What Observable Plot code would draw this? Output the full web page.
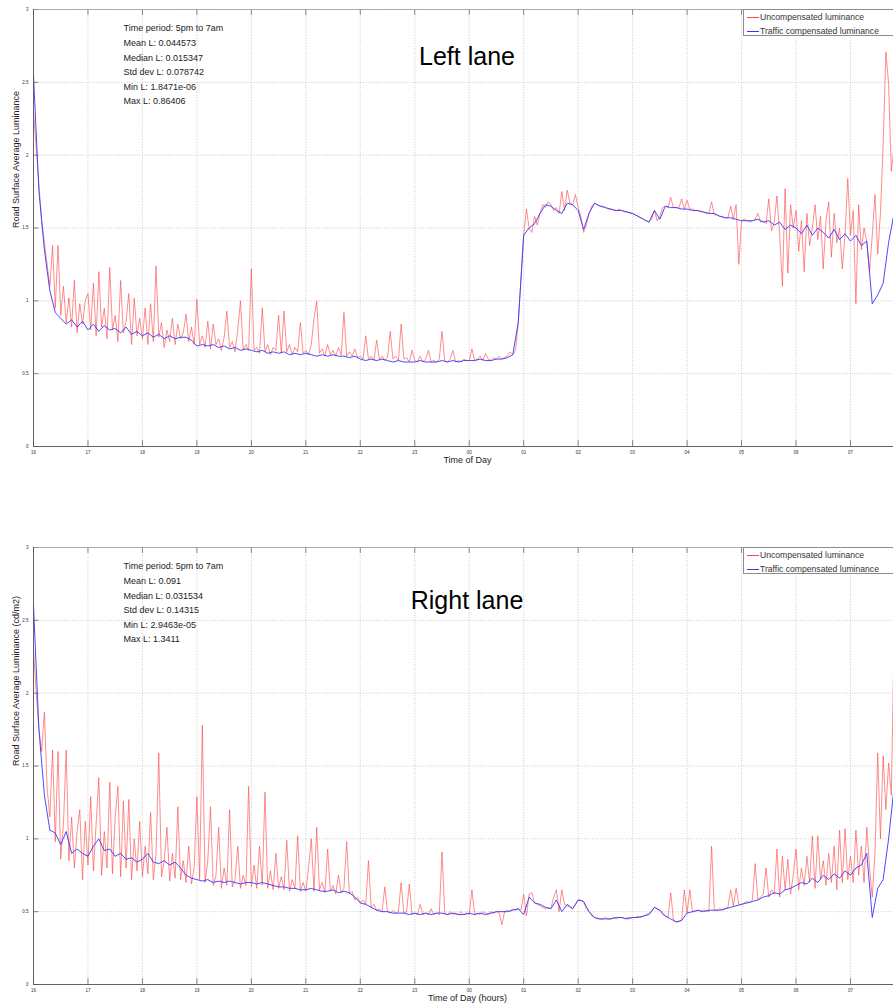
<!DOCTYPE html>
<html><head><meta charset="utf-8">
<script src="https://cdn.jsdelivr.net/npm/d3@7"></script>
<script src="https://cdn.jsdelivr.net/npm/@observablehq/plot@0.6"></script>
<style>
html,body{margin:0;padding:0;background:#fff;overflow:hidden;}
#wrap{position:relative;width:893px;height:1007px;overflow:hidden;font-family:"Liberation Sans",Arial,sans-serif;}
#wrap svg{display:block;}
.legend{position:absolute;left:743px;width:175px;height:25px;border:1px solid #8c8c8c;background:#fff;font-size:8.6px;color:#333;}
.legend .row{position:absolute;left:0;height:10px;width:100%;}
.legend .sw{position:absolute;left:3px;top:5px;width:12px;height:1px;}
.legend .lab{position:absolute;left:16px;top:0;line-height:10px;white-space:nowrap;}
</style></head><body><div id="wrap"></div>
<script>
// ---- data (hours since 16:00; uncompensated sampled every 0.05 h, compensated every 0.1 h) ----
const startHour = 16;
const uncompStep = 0.05;
const compStep = 0.1;
const hourTicks = [16,17,18,19,20,21,22,23,24,25,26,27,28,29,30,31];
const lumTicks = [0,0.5,1,1.5,2,2.5,3];
const seriesNames = ["Uncompensated luminance","Traffic compensated luminance"];

const leftUncomp = [
2.3,2.05,1.8,1.55,1.4,1.25,1.1,1.38,0.95,1.38,0.9,1.1,0.85,1.02,0.82,1.14,0.78,0.98,0.84,1.0,
1.05,0.8,1.12,0.76,1.2,0.82,0.95,0.74,1.23,0.8,0.9,0.72,1.14,0.78,0.86,1.05,0.7,1.02,0.76,0.88,
0.74,0.95,0.7,0.98,0.72,1.24,0.75,0.85,0.68,0.8,0.72,0.88,0.7,0.84,0.74,0.78,0.91,0.72,0.82,0.7,
1.01,0.7,0.76,0.68,0.86,0.67,0.84,0.7,0.74,0.66,0.75,0.93,0.68,0.72,0.65,0.8,1.0,0.66,0.7,0.66,
1.22,0.66,0.68,0.64,0.95,0.65,0.7,0.63,0.68,0.66,0.9,0.64,0.93,0.65,0.7,0.63,0.68,0.65,0.85,0.64,
0.66,0.63,0.7,0.88,1.0,0.64,0.67,0.62,0.7,0.63,0.66,0.62,0.68,0.63,0.92,0.62,0.65,0.62,0.67,0.61,
0.62,0.6,0.76,0.6,0.62,0.59,0.73,0.6,0.62,0.59,0.61,0.79,0.6,0.62,0.59,0.84,0.6,0.61,0.58,0.66,
0.59,0.58,0.62,0.58,0.6,0.66,0.58,0.59,0.58,0.6,0.79,0.59,0.58,0.6,0.66,0.58,0.59,0.58,0.6,0.59,
0.59,0.67,0.59,0.6,0.62,0.59,0.64,0.6,0.59,0.61,0.6,0.62,0.6,0.61,0.62,0.65,0.63,0.66,0.85,1.15,
1.45,1.63,1.5,1.47,1.58,1.52,1.6,1.66,1.64,1.68,1.66,1.62,1.64,1.6,1.75,1.62,1.76,1.67,1.66,1.73,
1.64,1.58,1.47,1.52,1.6,1.65,1.67,1.66,1.65,1.65,1.64,1.63,1.63,1.62,1.62,1.63,1.62,1.61,1.61,1.6,
1.6,1.59,1.58,1.57,1.56,1.55,1.54,1.56,1.62,1.55,1.58,1.64,1.65,1.64,1.71,1.64,1.64,1.64,1.7,1.63,
1.69,1.63,1.63,1.62,1.62,1.61,1.61,1.6,1.6,1.68,1.59,1.59,1.58,1.58,1.57,1.57,1.65,1.56,1.66,1.25,
1.55,1.56,1.55,1.54,1.55,1.56,1.6,1.54,1.55,1.53,1.7,1.48,1.54,1.72,1.45,1.1,1.77,1.19,1.66,1.5,
1.62,1.34,1.55,1.2,1.6,1.38,1.5,1.66,1.42,1.58,1.22,1.55,1.68,1.3,1.6,1.4,1.5,1.22,1.45,1.84,
1.45,1.62,0.98,1.66,1.35,1.5,1.4,1.2,1.45,1.73,1.32,1.6,2.07,2.71,2.49,1.89,2.06
];
const leftComp = [
2.55,1.75,1.35,1.07,0.92,0.88,0.84,0.87,0.82,0.86,
0.8,0.84,0.79,0.83,0.8,0.81,0.78,0.82,0.77,0.79,
0.76,0.78,0.75,0.77,0.74,0.76,0.74,0.75,0.75,0.73,
0.69,0.7,0.69,0.7,0.68,0.69,0.67,0.68,0.66,0.67,
0.66,0.65,0.66,0.64,0.65,0.64,0.65,0.63,0.64,0.63,
0.64,0.63,0.62,0.63,0.62,0.63,0.62,0.62,0.61,0.62,
0.6,0.59,0.6,0.59,0.6,0.59,0.58,0.59,0.58,0.58,
0.58,0.59,0.58,0.58,0.58,0.59,0.58,0.59,0.58,0.59,
0.59,0.59,0.6,0.59,0.59,0.6,0.6,0.61,0.63,0.85,
1.45,1.5,1.53,1.6,1.66,1.65,1.62,1.6,1.67,1.66,
1.62,1.49,1.6,1.67,1.65,1.64,1.63,1.62,1.62,1.61,
1.6,1.58,1.56,1.54,1.62,1.56,1.65,1.64,1.64,1.63,
1.63,1.62,1.62,1.61,1.6,1.6,1.58,1.57,1.57,1.56,
1.55,1.55,1.55,1.56,1.54,1.55,1.52,1.54,1.49,1.52,
1.5,1.46,1.52,1.45,1.5,1.47,1.43,1.49,1.42,1.46,
1.41,1.45,1.38,1.41,0.98,1.04,1.12,1.4,1.6
];
const rightUncomp = [
2.3,2.0,1.75,1.6,1.87,1.35,1.15,1.61,0.98,1.6,0.86,1.1,1.61,0.85,1.15,0.8,1.05,1.2,0.72,1.12,
0.82,1.29,0.78,1.1,1.42,0.75,1.05,0.8,1.39,0.76,1.15,1.36,0.74,1.26,0.8,1.27,0.72,1.0,0.78,1.12,
0.74,0.95,0.76,1.18,0.72,0.9,1.59,0.74,0.85,1.08,0.71,0.9,0.73,1.22,0.72,0.85,0.7,0.95,0.69,0.8,
1.29,0.72,1.78,0.7,0.85,1.22,0.68,0.75,1.08,0.66,0.8,0.68,1.2,0.67,0.72,0.95,0.66,0.75,0.68,1.36,
0.67,0.82,0.66,0.95,0.68,1.32,0.66,0.78,0.65,0.9,0.66,0.74,0.65,0.99,0.64,0.72,0.66,1.02,0.64,0.7,
0.64,0.8,1.0,0.64,1.08,0.65,0.7,0.63,0.93,0.64,0.68,0.62,0.75,0.63,0.66,0.98,0.62,0.64,0.58,0.6,
0.56,0.58,0.55,0.85,0.53,0.55,0.51,0.52,0.5,0.67,0.5,0.49,0.51,0.49,0.5,0.7,0.49,0.5,0.69,0.48,
0.49,0.48,0.55,0.48,0.49,0.48,0.52,0.48,0.49,0.48,0.91,0.49,0.48,0.5,0.48,0.49,0.48,0.5,0.48,0.49,
0.48,0.65,0.48,0.49,0.48,0.5,0.49,0.48,0.5,0.49,0.5,0.49,0.41,0.5,0.51,0.5,0.52,0.51,0.52,0.51,
0.62,0.47,0.62,0.63,0.56,0.55,0.54,0.53,0.52,0.53,0.52,0.6,0.65,0.5,0.65,0.55,0.54,0.53,0.52,0.55,
0.58,0.58,0.57,0.52,0.5,0.47,0.46,0.45,0.45,0.45,0.46,0.45,0.45,0.46,0.45,0.46,0.46,0.45,0.46,0.46,
0.46,0.46,0.47,0.46,0.47,0.48,0.49,0.5,0.53,0.52,0.51,0.48,0.47,0.46,0.63,0.44,0.43,0.43,0.44,0.65,
0.49,0.65,0.5,0.5,0.51,0.5,0.51,0.51,0.5,0.95,0.51,0.51,0.52,0.51,0.52,0.53,0.65,0.54,0.66,0.55,
0.55,0.56,0.57,0.56,0.58,0.83,0.58,0.6,0.62,0.8,0.6,0.65,0.62,0.93,0.6,0.88,0.65,0.86,0.62,0.75,
0.93,0.65,0.8,0.68,0.88,0.7,1.02,0.66,1.02,0.72,0.85,0.68,0.9,0.7,0.95,0.65,1.06,0.7,1.07,0.72,
0.88,0.7,1.06,0.75,0.95,0.7,1.08,0.8,0.6,0.9,1.59,1.0,1.57,1.2,1.52,1.3,2.37
];
const rightComp = [
2.6,1.75,1.3,1.06,1.04,0.96,1.05,0.9,0.93,0.9,
0.88,0.95,1.0,0.92,0.93,0.88,0.9,0.86,0.87,0.84,
0.86,0.9,0.84,0.83,0.85,0.82,0.84,0.8,0.75,0.73,
0.72,0.71,0.72,0.7,0.71,0.7,0.71,0.7,0.69,0.7,
0.7,0.69,0.7,0.69,0.68,0.67,0.67,0.66,0.66,0.65,
0.65,0.66,0.65,0.64,0.64,0.65,0.63,0.64,0.63,0.6,
0.56,0.55,0.53,0.51,0.5,0.5,0.49,0.49,0.49,0.48,
0.49,0.48,0.49,0.48,0.49,0.49,0.48,0.49,0.48,0.48,
0.49,0.48,0.49,0.48,0.49,0.5,0.5,0.5,0.51,0.52,
0.48,0.6,0.56,0.55,0.53,0.52,0.58,0.5,0.55,0.52,
0.58,0.57,0.5,0.46,0.45,0.45,0.45,0.46,0.46,0.45,
0.46,0.46,0.47,0.48,0.53,0.51,0.47,0.45,0.43,0.44,
0.49,0.5,0.51,0.5,0.51,0.51,0.51,0.52,0.53,0.54,
0.55,0.56,0.57,0.58,0.6,0.61,0.63,0.62,0.65,0.66,
0.68,0.7,0.69,0.73,0.7,0.75,0.72,0.76,0.73,0.78,
0.75,0.8,0.82,0.9,0.46,0.66,0.72,1.0,1.35
];

const leftStats = ["Time period: 5pm to 7am","Mean L: 0.044573","Median L: 0.015347","Std dev L: 0.078742","Min L: 1.8471e-06","Max L: 0.86406"];
const rightStats = ["Time period: 5pm to 7am","Mean L: 0.091","Median L: 0.031534","Std dev L: 0.14315","Min L: 2.9463e-05","Max L: 1.3411"];

// ---- drawing ----
const FONT = "'Liberation Sans', Arial, Helvetica, sans-serif";
const RED = "#ff4a4a", BLUE = "#3535ff";
const xDomain = [16, 31.79];

function rows(values, step) {
  return values.map((v, i) => ({hour: startHour + i * step, lum: v}));
}
const fmtHour = d => String(d % 24).padStart(2, "0");

function panel(o) {
  const red = rows(o.uncomp, uncompStep);
  const blue = rows(o.comp, compStep);
  const grid = {stroke: "#b5b5b5", strokeOpacity: 1, strokeWidth: 0.7, strokeDasharray: "1,1.6"};
  return Plot.plot({
    width: 893, height: o.height,
    marginTop: o.mt, marginBottom: o.mb, marginLeft: 33, marginRight: 0,
    style: {fontFamily: FONT, background: "#fff", color: "#333"},
    x: {domain: xDomain},
    y: {domain: [0, 3]},
    marks: [
      Plot.gridX(hourTicks, grid),
      Plot.gridY(lumTicks, grid),
      Plot.ruleX(hourTicks, {y1: 0, y2: 0.04, stroke: "#555", strokeWidth: 0.7}),
      Plot.ruleX(hourTicks, {y1: 2.96, y2: 3, stroke: "#555", strokeWidth: 0.7}),
      Plot.ruleY(lumTicks, {x1: 16, x2: 16.1, stroke: "#555", strokeWidth: 0.7}),
      Plot.line(red, {x: "hour", y: "lum", stroke: RED, strokeWidth: 0.7, strokeOpacity: 0.9, clip: true}),
      Plot.line(blue, {x: "hour", y: "lum", stroke: BLUE, strokeWidth: 0.9, clip: true}),
      Plot.ruleY([3], {stroke: "#9a9a9a", strokeWidth: 0.8}),
      Plot.ruleY([0], {stroke: "#555", strokeWidth: 0.9}),
      Plot.ruleX([16], {stroke: "#555", strokeWidth: 0.9}),
      Plot.axisX(hourTicks, {tickFormat: fmtHour, tickSize: 0, tickPadding: 4, fontSize: 4.5, label: null}),
      Plot.axisY(lumTicks, {tickFormat: d => String(d), tickSize: 0, tickPadding: 5, fontSize: 4.5, label: null}),
      Plot.text([o.stats.join("\n")], {text: d => d, frameAnchor: "top-left", dx: 90, dy: 11.5, textAnchor: "start", lineAnchor: "top", lineHeight: 1.62, fontSize: 9, fill: "#222"}),
      Plot.text([o.title], {text: d => d, frameAnchor: "top", dx: 3.5, dy: o.titleDy, fontSize: 25, fill: "#000"}),
      Plot.text([o.xLabel], {text: d => d, frameAnchor: "bottom", dx: 4, dy: 16.5, fontSize: 9, fill: "#222"}),
      Plot.text([o.yLabel], {text: d => d, frameAnchor: "left", dx: -17.5, rotate: -90, fontSize: 9, fill: "#222"})
    ]
  });
}

function legend(top) {
  const box = document.createElement("div");
  box.className = "legend";
  box.style.top = top + "px";
  [RED, BLUE].forEach((c, i) => {
    const row = document.createElement("div");
    row.className = "row";
    row.style.top = (i === 0 ? 2 : 16) + "px";
    row.innerHTML = `<span class="sw" style="background:${c}"></span><span class="lab">${seriesNames[i]}</span>`;
    box.appendChild(row);
  });
  return box;
}

const wrap = document.getElementById("wrap");
wrap.appendChild(panel({uncomp: leftUncomp, comp: leftComp, stats: leftStats, title: "Left lane", titleDy: 38,
  xLabel: "Time of Day", yLabel: "Road Surface Average Luminance", height: 530, mt: 9, mb: 84}));
wrap.appendChild(panel({uncomp: rightUncomp, comp: rightComp, stats: rightStats, title: "Right lane", titleDy: 44,
  xLabel: "Time of Day (hours)", yLabel: "Road Surface Average Luminance (cd/m2)", height: 477, mt: 17, mb: 23}));
wrap.appendChild(legend(9));
wrap.appendChild(legend(547));
</script></body></html>
